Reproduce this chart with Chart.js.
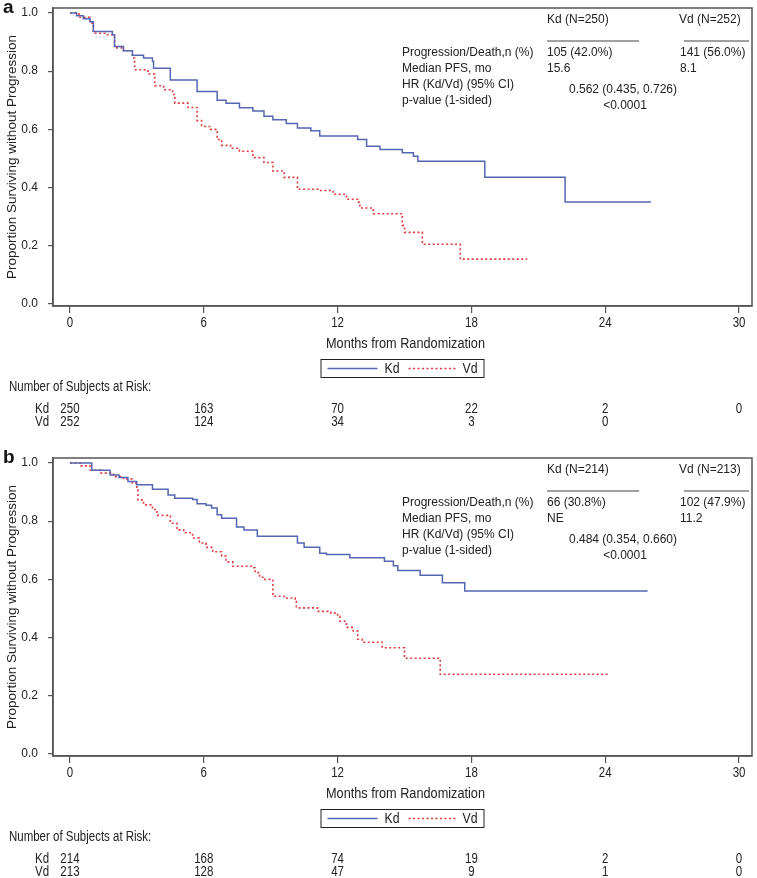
<!DOCTYPE html>
<html>
<head>
<meta charset="utf-8">
<script src="https://cdn.jsdelivr.net/npm/chart.js@4.4.0/dist/chart.umd.min.js"></script>
<style>
	html, body { margin: 0; padding: 0; background: #fff; overflow: hidden; }
	.panel { width: 757px; height: 450px; }
	canvas { display: block; }
</style>
</head>
<body>
<div class="panel"><canvas id="chartA" width="757" height="450"></canvas></div>
<div class="panel"><canvas id="chartB" width="757" height="450"></canvas></div>
<script>
// axis ticks
const xTicks = [0, 6, 12, 18, 24, 30];
const yTicks = [0, 0.2, 0.4, 0.6, 0.8, 1.0];

// panel a - Kaplan-Meier steps (month of drop, survival after drop)
const kdTimesA = [0, 0.3, 0.6, 0.9, 1.05, 1.9, 2.0, 2.4, 2.8, 3.3, 3.7, 3.75, 4.5, 5.7, 6.6, 7.0, 7.6, 8.2, 8.7, 9.1, 9.7, 10.2, 10.8, 11.2, 12.9, 13.3, 13.9, 14.9, 15.4, 15.6, 18.6, 22.2, 26.05];
const kdSurvA = [1.0, 0.99, 0.98, 0.97, 0.936, 0.925, 0.885, 0.87, 0.855, 0.845, 0.833, 0.81, 0.77, 0.73, 0.70, 0.69, 0.674, 0.663, 0.645, 0.633, 0.62, 0.605, 0.595, 0.577, 0.565, 0.542, 0.531, 0.52, 0.508, 0.49, 0.435, 0.35, 0.35];
const vdTimesA = [0, 0.4, 0.9, 1.05, 1.6, 2.0, 2.4, 2.8, 2.9, 3.5, 3.8, 4.2, 4.6, 4.7, 5.3, 5.7, 5.9, 6.3, 6.6, 6.8, 7.2, 7.6, 8.2, 8.7, 9.1, 9.6, 10.2, 11.2, 11.8, 12.4, 12.9, 13.0, 13.6, 14.9, 15.0, 15.8, 17.5, 20.5];
const vdSurvA = [1.0, 0.985, 0.965, 0.93, 0.925, 0.88, 0.87, 0.845, 0.805, 0.79, 0.75, 0.736, 0.72, 0.69, 0.675, 0.63, 0.61, 0.60, 0.565, 0.545, 0.535, 0.525, 0.503, 0.486, 0.457, 0.435, 0.394, 0.39, 0.377, 0.36, 0.35, 0.33, 0.31, 0.27, 0.246, 0.205, 0.154, 0.154];

// panel b
const kdTimesB = [0, 0.98, 1.8, 2.2, 2.6, 2.99, 3.7, 4.4, 4.7, 5.5, 5.7, 6.1, 6.35, 6.6, 6.8, 7.47, 7.8, 8.4, 10.2, 10.5, 11.2, 11.5, 12.55, 14.1, 14.5, 14.7, 15.7, 16.7, 17.7, 25.9];
const kdSurvB = [1.0, 0.975, 0.959, 0.95, 0.936, 0.925, 0.91, 0.89, 0.879, 0.874, 0.86, 0.855, 0.845, 0.822, 0.81, 0.78, 0.77, 0.748, 0.725, 0.71, 0.69, 0.685, 0.674, 0.662, 0.647, 0.63, 0.614, 0.588, 0.56, 0.56];
const vdTimesB = [0, 0.5, 0.9, 1.35, 1.95, 2.4, 2.8, 3.0, 3.05, 3.3, 3.7, 3.9, 4.5, 4.8, 5.1, 5.5, 5.8, 6.1, 6.4, 6.8, 7.0, 7.3, 8.2, 8.3, 8.5, 8.7, 9.1, 9.6, 10.1, 10.15, 11.1, 11.7, 12.0, 12.1, 12.4, 12.7, 12.9, 13.1, 14.0, 15.0, 16.6, 24.2];
const vdSurvB = [1.0, 0.99, 0.976, 0.965, 0.953, 0.945, 0.93, 0.908, 0.873, 0.856, 0.84, 0.82, 0.793, 0.77, 0.76, 0.742, 0.725, 0.71, 0.695, 0.68, 0.66, 0.645, 0.64, 0.623, 0.607, 0.60, 0.542, 0.536, 0.525, 0.502, 0.49, 0.484, 0.473, 0.456, 0.435, 0.423, 0.394, 0.384, 0.365, 0.329, 0.274, 0.274];

// number at risk, one entry per x tick
const atRiskKdA = [250, 163, 70, 22, 2, 0];
const atRiskVdA = [252, 124, 34, 3, 0];
const atRiskKdB = [214, 168, 74, 19, 2, 0];
const atRiskVdB = [213, 128, 47, 9, 1, 0];

// summary table text
const statLabels = ['Progression/Death,n (%)', 'Median PFS, mo', 'HR (Kd/Vd) (95% CI)', 'p-value (1-sided)'];
const kdStatsA = ['Kd (N=250)', '105 (42.0%)', '15.6'];
const vdStatsA = ['Vd (N=252)', '141 (56.0%)', '8.1'];
const hrA = ['0.562 (0.435, 0.726)', '<0.0001'];
const kdStatsB = ['Kd (N=214)', '66 (30.8%)', 'NE'];
const vdStatsB = ['Vd (N=213)', '102 (47.9%)', '11.2'];
const hrB = ['0.484 (0.354, 0.660)', '<0.0001'];

const SANS = '"Liberation Sans", Arial, sans-serif';
const KD_COLOR = '#5566b2';
const VD_COLOR = '#e23a3f';
const TEXT = '#222';
const SQUEEZE = 0.82; // narrow face look, no Arial Narrow installed

function toPoints (times, surv) {
	return times.map((t, i) => ({ x: t, y: surv[i] }));
}

// text squeezed sideways, like Arial Narrow
function narrowText (ctx, text, x, y, size, align) {
	ctx.save();
	ctx.font = size + 'px ' + SANS;
	ctx.textAlign = align || 'left';
	ctx.textBaseline = 'middle';
	ctx.translate(x, y);
	ctx.scale(SQUEEZE, 1);
	ctx.fillText(text, 0, 0);
	ctx.restore();
}

const kmDecor = {
	id: 'kmDecor',
	afterDraw (chart, args, opts) {
		const { ctx, chartArea: area } = chart;
		const xs = chart.scales.x;
		ctx.save();

		// box round the plot
		ctx.strokeStyle = '#555';
		ctx.lineWidth = 1.5;
		ctx.strokeRect(area.left, area.top, area.right - area.left, area.bottom - area.top);

		// panel letter
		ctx.fillStyle = '#111';
		ctx.font = 'bold 19px ' + SANS;
		ctx.textAlign = 'left';
		ctx.textBaseline = 'alphabetic';
		ctx.fillText(opts.letter, 3, 13);

		// summary table
		ctx.fillStyle = TEXT;
		ctx.font = '12px ' + SANS;
		ctx.textBaseline = 'middle';
		ctx.fillText(opts.kd[0], 547, 20);
		ctx.fillText(opts.vd[0], 679, 20);
		ctx.strokeStyle = '#a0a0a0';
		ctx.lineWidth = 2;
		ctx.beginPath();
		ctx.moveTo(547, 41); ctx.lineTo(639, 41);
		ctx.moveTo(684, 41); ctx.lineTo(749, 41);
		ctx.stroke();
		const rowY = [53, 69, 85, 101];
		statLabels.forEach((label, i) => ctx.fillText(label, 402, rowY[i]));
		ctx.fillText(opts.kd[1], 547, rowY[0]);
		ctx.fillText(opts.kd[2], 547, rowY[1]);
		ctx.fillText(opts.vd[1], 680, rowY[0]);
		ctx.fillText(opts.vd[2], 680, rowY[1]);
		ctx.textAlign = 'center';
		ctx.fillText(opts.hr[0], 623, 90);
		ctx.fillText(opts.hr[1], 625, 106);

		// x tick labels and axis title
		xTicks.forEach(v => narrowText(ctx, String(v), xs.getPixelForValue(v), 323, 14, 'center'));
		const cx = (area.left + area.right) / 2;
		narrowText(ctx, 'Months from Randomization', cx + 3, 344, 15.5, 'center');

		// legend
		ctx.strokeStyle = '#222';
		ctx.lineWidth = 1;
		ctx.strokeRect(cx - 81.5, 359.5, 163, 18);
		ctx.lineWidth = 1.5;
		ctx.strokeStyle = KD_COLOR;
		ctx.beginPath(); ctx.moveTo(cx - 75, 368.5); ctx.lineTo(cx - 25, 368.5); ctx.stroke();
		ctx.strokeStyle = VD_COLOR;
		ctx.setLineDash([2, 2.5]);
		ctx.beginPath(); ctx.moveTo(cx + 6, 368.5); ctx.lineTo(cx + 54, 368.5); ctx.stroke();
		ctx.setLineDash([]);
		narrowText(ctx, 'Kd', cx - 18, 369, 15);
		narrowText(ctx, 'Vd', cx + 60, 369, 15);

		// number at risk
		narrowText(ctx, 'Number of Subjects at Risk:', 9, 387, 14);
		narrowText(ctx, 'Kd', 35, 409, 14);
		narrowText(ctx, 'Vd', 35, 422, 14);
		opts.riskKd.forEach((n, i) => narrowText(ctx, String(n), xs.getPixelForValue(xTicks[i]), 409, 14, 'center'));
		opts.riskVd.forEach((n, i) => narrowText(ctx, String(n), xs.getPixelForValue(xTicks[i]), 422, 14, 'center'));

		ctx.restore();
	},
};

function makeChart (id, letter, kdT, kdS, vdT, vdS, kd, vd, hr, riskKd, riskVd) {
	const ctx = document.getElementById(id).getContext('2d');
	return new Chart(ctx, {
		type: 'line',
		data: {
			datasets: [{
				label: 'Kd',
				data: toPoints(kdT, kdS),
				borderColor: KD_COLOR,
				borderWidth: 1.5,
				stepped: true,
				pointRadius: 0,
				fill: false,
			}, {
				label: 'Vd',
				data: toPoints(vdT, vdS),
				borderColor: VD_COLOR,
				borderWidth: 1.6,
				borderDash: [2, 2.5],
				stepped: true,
				pointRadius: 0,
				fill: false,
			}],
		},
		options: {
			responsive: false,
			animation: false,
			layout: { padding: { left: 0, top: 8, right: 5, bottom: 98 } },
			plugins: {
				legend: { display: false },
				tooltip: { enabled: false },
				kmDecor: { letter, kd, vd, hr, riskKd, riskVd },
			},
			scales: {
				x: {
					type: 'linear',
					min: -0.76,
					max: 30.58,
					afterBuildTicks: (scale) => { scale.ticks = xTicks.map(v => ({ value: v })); },
					afterFit: (scale) => {
						scale.height = 46;
						scale.paddingLeft = 0;
						scale.paddingRight = 0;
					},
					grid: { drawOnChartArea: false, color: '#555', tickLength: 7, lineWidth: 1.2 },
					border: { display: true, color: '#555', width: 1.5 },
					ticks: { display: false },
				},
				y: {
					type: 'linear',
					min: -0.007,
					max: 1.017,
					afterBuildTicks: (scale) => { scale.ticks = yTicks.map(v => ({ value: v })); },
					afterFit: (scale) => {
						scale.width = 53;
						scale.paddingTop = 0;
						scale.paddingBottom = 0;
					},
					grid: { drawOnChartArea: false, color: '#555', tickLength: 5, lineWidth: 1.2 },
					border: { display: true, color: '#555', width: 1.5 },
					ticks: {
						color: TEXT,
						padding: 10,
						font: { family: SANS, size: 12 },
						callback: (v) => v.toFixed(1),
					},
					title: {
						display: true,
						text: 'Proportion Surviving without Progression',
						color: TEXT,
						padding: { top: 4, bottom: 0 },
						font: { family: SANS, size: 13.5 },
					},
				},
			},
		},
		plugins: [kmDecor],
	});
}

makeChart('chartA', 'a', kdTimesA, kdSurvA, vdTimesA, vdSurvA, kdStatsA, vdStatsA, hrA, atRiskKdA, atRiskVdA);
makeChart('chartB', 'b', kdTimesB, kdSurvB, vdTimesB, vdSurvB, kdStatsB, vdStatsB, hrB, atRiskKdB, atRiskVdB);
</script>
</body>
</html>
